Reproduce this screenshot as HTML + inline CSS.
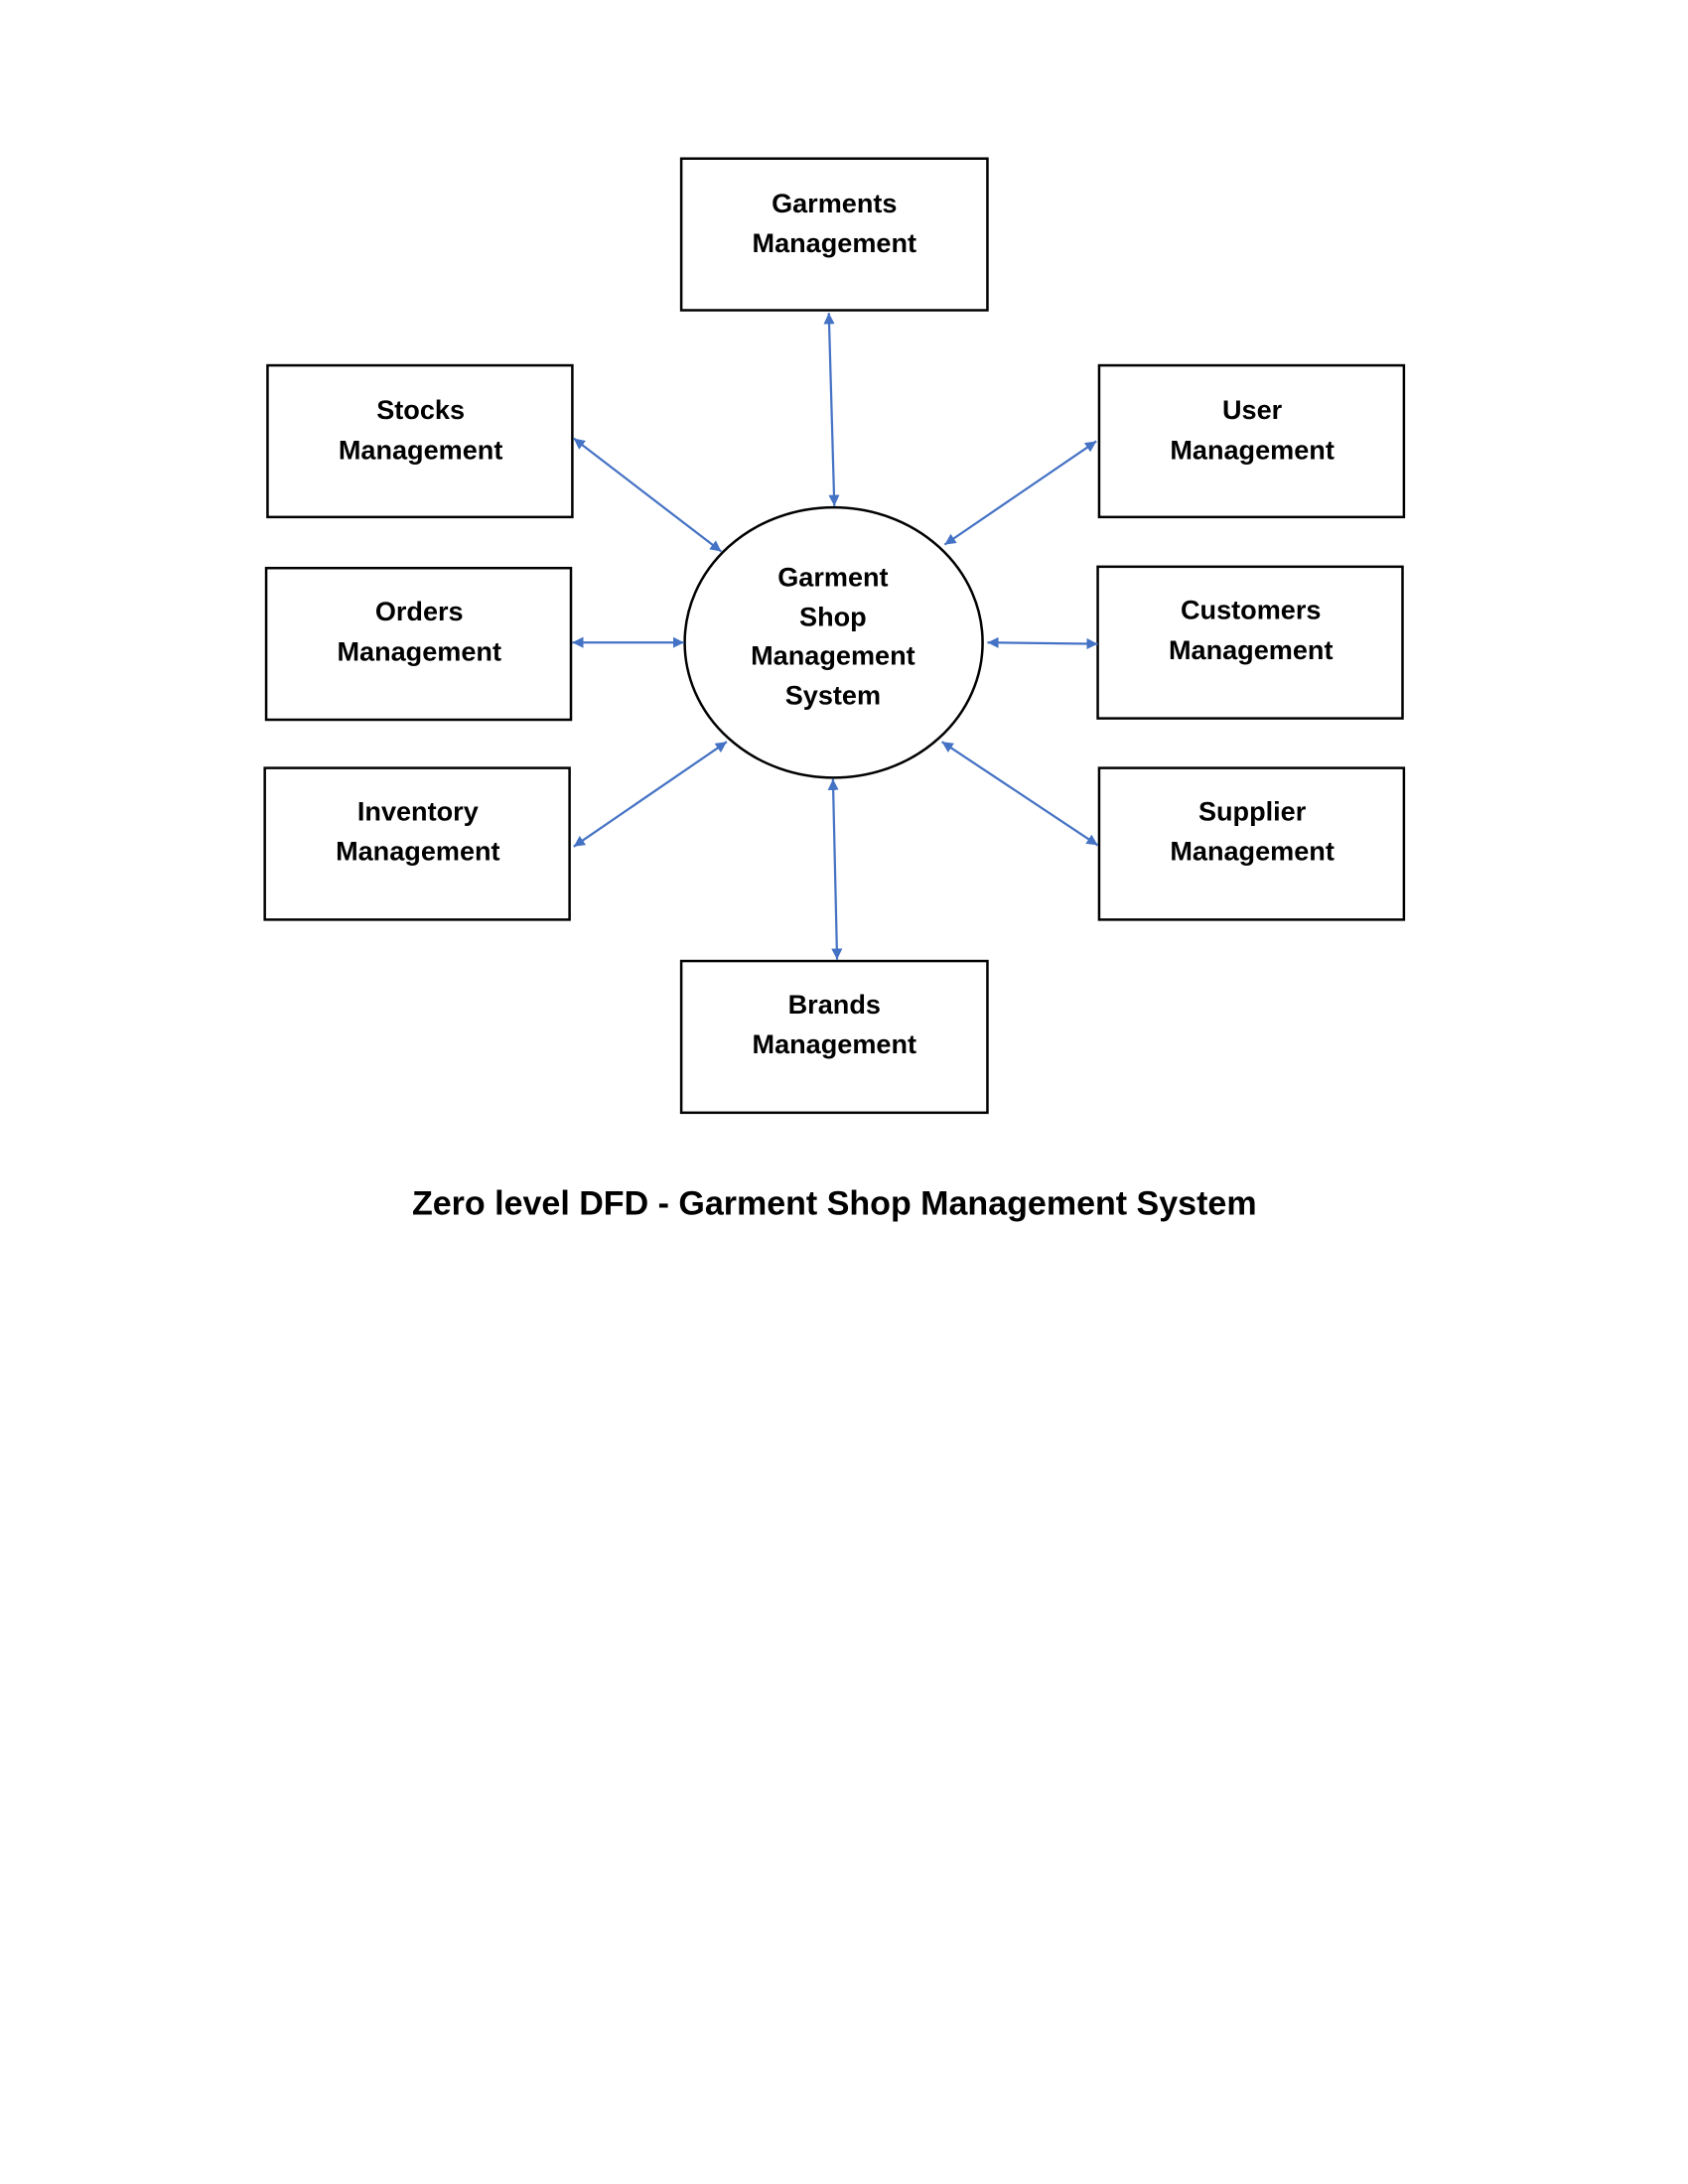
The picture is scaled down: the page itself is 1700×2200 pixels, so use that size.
<!DOCTYPE html>
<html>
<head>
<meta charset="utf-8">
<style>
html,body{margin:0;padding:0;background:#fff;}
svg{display:block;}
text{font-family:"Liberation Sans",sans-serif;font-weight:bold;fill:#000;}
</style>
</head>
<body>
<svg width="1700" height="2200" viewBox="0 0 1224 1584" xmlns="http://www.w3.org/2000/svg">
<defs>
<marker id="a" viewBox="0 0 10 10" refX="10" refY="5" markerWidth="8" markerHeight="8" markerUnits="userSpaceOnUse" orient="auto-start-reverse">
<path d="M0,0 L10,5 L0,10 z" fill="#4472C4"/>
</marker>
</defs>
<g fill="none" stroke="#000" stroke-width="1.8">
<rect x="494" y="115" width="222" height="110"/>
<rect x="194" y="265" width="221" height="110"/>
<rect x="797" y="265" width="221" height="110"/>
<rect x="193" y="412" width="221" height="110"/>
<rect x="796" y="411" width="221" height="110"/>
<rect x="192" y="557" width="221" height="110"/>
<rect x="797" y="557" width="221" height="110"/>
<rect x="494" y="697" width="222" height="110"/>
<ellipse cx="604.5" cy="466" rx="108" ry="98"/>
</g>
<g stroke="#4472C4" stroke-width="1.6" marker-start="url(#a)" marker-end="url(#a)">
<line x1="601" y1="227" x2="605" y2="367"/>
<line x1="416" y1="318" x2="523" y2="400"/>
<line x1="795" y1="320" x2="685" y2="395"/>
<line x1="415" y1="466" x2="496" y2="466"/>
<line x1="716" y1="466" x2="796" y2="467"/>
<line x1="416" y1="614" x2="527" y2="538"/>
<line x1="683" y1="538" x2="796" y2="613"/>
<line x1="604" y1="565" x2="607" y2="696"/>
</g>
<g font-size="19.5" text-anchor="middle">
<text x="605" y="154">Garments</text><text x="605" y="183">Management</text>
<text x="305" y="304">Stocks</text><text x="305" y="333">Management</text>
<text x="908" y="304">User</text><text x="908" y="333">Management</text>
<text x="304" y="450">Orders</text><text x="304" y="479">Management</text>
<text x="907" y="449">Customers</text><text x="907" y="478">Management</text>
<text x="303" y="595">Inventory</text><text x="303" y="624">Management</text>
<text x="908" y="595">Supplier</text><text x="908" y="624">Management</text>
<text x="605" y="735">Brands</text><text x="605" y="764">Management</text>
<text x="604" y="425">Garment</text><text x="604" y="454">Shop</text>
<text x="604" y="482">Management</text><text x="604" y="511">System</text>
</g>
<text x="605" y="881" font-size="24.5" text-anchor="middle">Zero level DFD - Garment Shop Management System</text>
</svg>
</body>
</html>
